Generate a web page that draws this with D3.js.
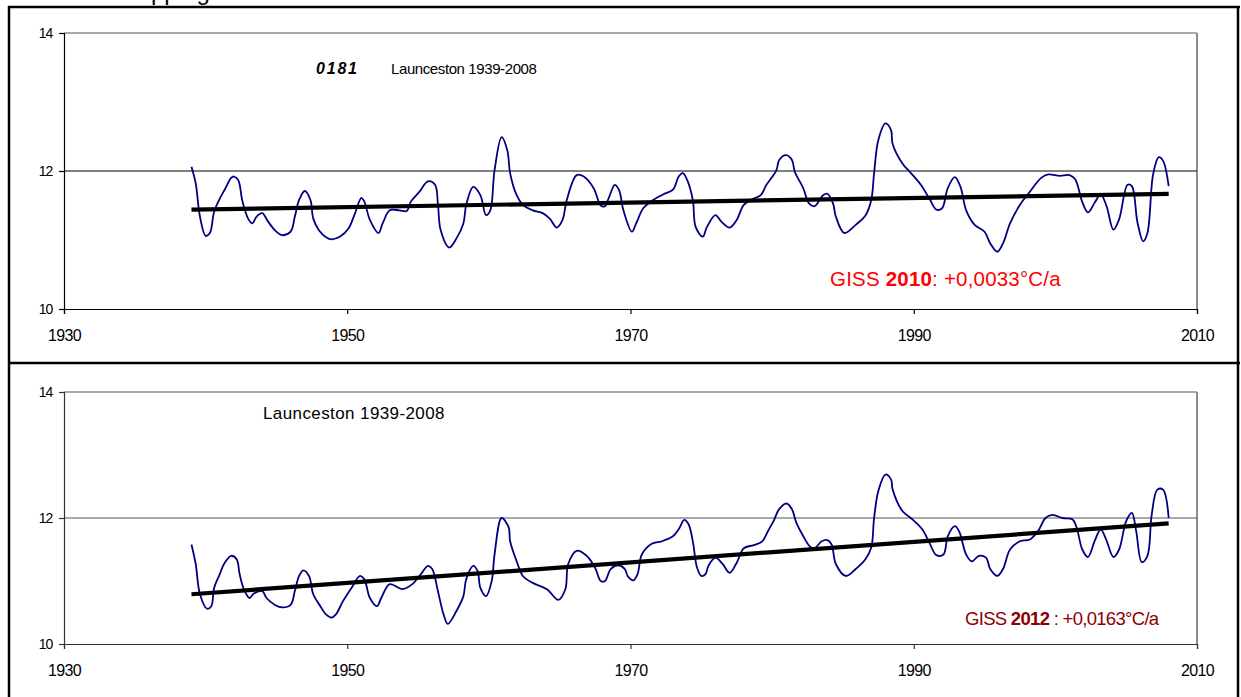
<!DOCTYPE html>
<html>
<head>
<meta charset="utf-8">
<script src="https://cdn.jsdelivr.net/npm/d3@7"></script>
<style>
  body { margin: 0; background: #fff; }
  svg { display: block; }
  text { font-family: "Liberation Sans", Arial, sans-serif; }
</style>
</head>
<body>
<svg id="chart" width="1241" height="697"></svg>
<script>
// Axis ticks shared by both panels
const xTicks = [1930, 1950, 1970, 1990, 2010];
const yTicks = [10, 12, 14];

// Launceston annual mean temperature (smoothed), GISS 2010 release
const yearsA = [1939.0,1939.3,1939.6,1940.0,1940.3,1940.6,1941.0,1941.4,1941.8,1942.0,1942.3,1942.6,1943.0,1943.3,1943.6,1944.0,1944.4,1944.9,1945.4,1946.0,1946.3,1946.6,1947.0,1947.4,1947.6,1948.0,1948.5,1948.9,1949.5,1950.1,1950.5,1951.0,1951.2,1951.6,1952.2,1952.5,1953.0,1953.7,1954.2,1954.5,1955.1,1955.7,1956.2,1956.4,1956.6,1957.2,1957.7,1958.2,1958.4,1958.9,1959.4,1959.8,1960.1,1960.4,1960.9,1961.3,1961.5,1961.9,1962.4,1963.1,1963.8,1964.3,1964.8,1965.2,1965.5,1966.2,1966.7,1967.4,1967.9,1968.2,1968.5,1968.9,1969.2,1969.5,1970.1,1970.4,1970.9,1971.6,1972.3,1973.0,1973.4,1973.7,1974.0,1974.4,1974.6,1975.1,1975.4,1976.0,1976.4,1977.0,1977.5,1978.0,1978.7,1979.2,1979.6,1980.3,1980.5,1981.0,1981.4,1981.6,1982.2,1982.6,1983.0,1983.6,1983.9,1984.3,1984.5,1985.1,1985.9,1986.6,1987.0,1987.2,1987.5,1988.0,1988.4,1988.5,1989.2,1989.8,1990.5,1991.1,1991.6,1992.0,1992.4,1992.9,1993.3,1993.7,1994.3,1995.0,1995.4,1995.9,1996.3,1996.8,1997.5,1998.2,1999.0,1999.5,2000.3,2001.0,2001.4,2001.9,2002.3,2002.8,2003.2,2003.6,2004.1,2004.5,2005.1,2005.4,2005.8,2006.2,2006.5,2006.9,2007.3,2007.6,2008.0];
const tempsA = [12.06,11.82,11.34,11.06,11.10,11.41,11.60,11.75,11.90,11.92,11.87,11.56,11.31,11.24,11.34,11.39,11.27,11.14,11.07,11.12,11.34,11.58,11.71,11.58,11.31,11.14,11.04,11.01,11.05,11.17,11.36,11.61,11.56,11.29,11.10,11.24,11.43,11.43,11.42,11.56,11.70,11.85,11.80,11.53,11.14,10.89,11.02,11.24,11.51,11.77,11.65,11.36,11.43,12.01,12.49,12.30,11.97,11.68,11.51,11.43,11.39,11.31,11.18,11.29,11.58,11.94,11.92,11.75,11.50,11.49,11.63,11.80,11.72,11.43,11.12,11.24,11.46,11.58,11.66,11.73,11.92,11.97,11.87,11.58,11.19,11.05,11.19,11.36,11.27,11.18,11.29,11.51,11.60,11.65,11.80,12.01,12.16,12.23,12.16,11.99,11.75,11.53,11.49,11.65,11.67,11.53,11.34,11.10,11.22,11.36,11.58,11.97,12.45,12.69,12.59,12.40,12.11,11.97,11.80,11.60,11.44,11.46,11.75,11.91,11.77,11.43,11.22,11.12,10.95,10.83,10.95,11.24,11.51,11.70,11.90,11.95,11.93,11.94,11.88,11.55,11.40,11.55,11.66,11.50,11.15,11.30,11.80,11.78,11.25,10.98,11.10,11.95,12.20,12.15,11.78];

// Same station, GISS 2012 release
const yearsB = [1939.0,1939.3,1939.6,1940.1,1940.4,1940.6,1941.0,1941.3,1941.8,1942.2,1942.4,1942.7,1943.1,1943.4,1944.0,1944.3,1944.9,1945.4,1946.0,1946.3,1946.6,1946.9,1947.3,1947.6,1948.1,1948.5,1948.9,1949.2,1949.7,1950.3,1950.9,1951.2,1951.6,1952.1,1952.4,1953.0,1953.9,1954.6,1955.2,1955.7,1956.0,1956.4,1956.8,1957.1,1957.7,1958.2,1958.4,1958.9,1959.2,1959.4,1959.8,1960.2,1960.4,1960.9,1961.4,1961.5,1962.0,1962.4,1963.1,1964.1,1964.9,1965.4,1965.6,1966.2,1966.9,1967.5,1967.9,1968.2,1968.6,1969.1,1969.6,1969.8,1970.2,1970.5,1970.8,1971.5,1972.2,1973.0,1973.4,1973.8,1974.1,1974.4,1974.7,1975.0,1975.3,1975.5,1976.0,1976.5,1977.0,1977.5,1978.0,1978.7,1979.3,1979.7,1980.1,1980.5,1981.0,1981.4,1981.7,1982.2,1982.7,1983.0,1983.5,1983.9,1984.2,1984.5,1985.2,1985.9,1986.6,1987.0,1987.2,1987.5,1988.0,1988.4,1988.5,1989.2,1989.9,1990.6,1991.1,1991.6,1992.1,1992.4,1992.9,1993.2,1993.7,1994.1,1994.6,1995.1,1995.4,1995.9,1996.3,1996.8,1997.5,1998.2,1998.8,1999.3,1999.8,2000.5,2001.2,2001.5,2001.9,2002.3,2002.8,2003.2,2003.6,2004.1,2004.5,2005.0,2005.4,2005.7,2006.1,2006.5,2006.8,2007.2,2007.6,2008.0];
const tempsB = [11.58,11.27,10.79,10.56,10.60,10.89,11.11,11.27,11.40,11.34,11.11,10.87,10.73,10.80,10.84,10.73,10.62,10.58,10.62,10.84,11.08,11.17,11.08,10.79,10.60,10.47,10.42,10.47,10.68,10.89,11.08,11.03,10.73,10.60,10.73,10.95,10.87,10.95,11.11,11.24,11.19,10.84,10.47,10.32,10.52,10.76,11.03,11.24,11.16,10.89,10.76,11.00,11.42,12.00,11.85,11.63,11.29,11.08,10.97,10.87,10.70,10.87,11.27,11.48,11.40,11.21,11.00,11.00,11.19,11.25,11.19,11.08,11.01,11.11,11.42,11.59,11.63,11.71,11.82,11.97,11.90,11.63,11.21,11.08,11.11,11.24,11.37,11.27,11.13,11.29,11.52,11.57,11.63,11.79,11.95,12.14,12.23,12.14,11.93,11.71,11.54,11.52,11.63,11.65,11.58,11.27,11.08,11.19,11.35,11.53,12.00,12.43,12.69,12.61,12.46,12.11,11.98,11.82,11.61,11.41,11.42,11.71,11.87,11.79,11.42,11.31,11.40,11.37,11.19,11.08,11.19,11.50,11.63,11.66,11.80,12.00,12.05,12.00,11.98,11.85,11.50,11.38,11.65,11.82,11.65,11.38,11.50,11.95,12.08,11.80,11.30,11.40,12.05,12.45,12.45,12.00];

// Linear trends: value at the first year plus slope in °C per year
const trendYears = [1939, 2008];
const trendStartA = 11.44, slopeA = 0.0033;
const trendStartB = 10.79, slopeB = 0.0163;

const svg = d3.select("#chart");

// Tail of the running document text above the table (only descenders show)
svg.append("text").attr("x", 151).attr("y", 0).attr("font-size", 24)
  .attr("font-family", "Liberation Serif, Times New Roman, serif").text("pping");

// Table frame around the two panels
const frame = svg.append("g").attr("stroke", "#000").attr("stroke-width", 2.5);
frame.append("line").attr("x1", 8).attr("x2", 1240).attr("y1", 7).attr("y2", 7);
frame.append("line").attr("x1", 8).attr("x2", 1240).attr("y1", 363).attr("y2", 363);
frame.append("line").attr("x1", 9).attr("x2", 9).attr("y1", 6).attr("y2", 700);
frame.append("line").attr("x1", 1238).attr("x2", 1238).attr("y1", 6).attr("y2", 700);

function panel(cfg) {
  const x = d3.scaleLinear().domain([1930, 2010]).range([64, 1197]);
  const y = d3.scaleLinear().domain([10, 14]).range([cfg.bottom, cfg.top]);
  const g = svg.append("g");

  // plot-area border (top and right) in grey
  g.append("line").attr("x1", x(1930)).attr("x2", x(2010)).attr("y1", y(14)).attr("y2", y(14))
    .attr("stroke", "#8c8c8c").attr("stroke-width", 1.5);
  g.append("line").attr("x1", x(2010)).attr("x2", x(2010)).attr("y1", y(14)).attr("y2", y(10))
    .attr("stroke", "#8c8c8c").attr("stroke-width", 2);

  // gridline at 12
  g.append("line").attr("x1", x(1930)).attr("x2", x(2010)).attr("y1", y(12)).attr("y2", y(12))
    .attr("stroke", cfg.gridColor).attr("stroke-width", 1);

  // axes
  const yAxis = d3.axisLeft(y).tickValues(yTicks).tickSize(5).tickFormat(d3.format("d"));
  const xAxis = d3.axisBottom(x).tickValues(xTicks).tickSize(5).tickFormat(d3.format("d"));
  const ya = g.append("g").attr("transform", `translate(${x(1930)},0)`).call(yAxis);
  const xa = g.append("g").attr("transform", `translate(0,${y(10)})`).call(xAxis);
  [ya, xa].forEach(a => {
    a.select(".domain").attr("stroke", cfg.axisColor).attr("stroke-width", 1.2);
    a.selectAll(".tick line").attr("stroke", cfg.axisColor).attr("stroke-width", 1.2);
    a.selectAll("text").attr("fill", "#000")
      .attr("font-family", "Liberation Sans, Arial, sans-serif");
  });
  ya.selectAll("text").attr("x", -12).attr("dy", "0.35em").attr("font-size", 14).attr("letter-spacing", -1.2);
  xa.selectAll("text").attr("y", 21).attr("dy", "0.71em").attr("font-size", 16).attr("letter-spacing", -0.6);

  // temperature curve
  const line = d3.line().x((d, i) => x(cfg.years[i])).y(d => y(d)).curve(d3.curveCatmullRom.alpha(0.5));
  g.append("path").datum(cfg.temps).attr("d", line)
    .attr("fill", "none").attr("stroke", "#000080").attr("stroke-width", 1.8);

  // trend line
  const tl = d3.line().x(d => x(d)).y(d => y(cfg.t0 + cfg.slope * (d - trendYears[0])));
  g.append("path").datum(trendYears).attr("d", tl)
    .attr("fill", "none").attr("stroke", "#000").attr("stroke-width", 4.2);
  return { x, y, g };
}

const pA = panel({ top: 33, bottom: 309, years: yearsA, temps: tempsA, t0: trendStartA, slope: slopeA,
  gridColor: "#000", axisColor: "#000" });
const pB = panel({ top: 392, bottom: 644, years: yearsB, temps: tempsB, t0: trendStartB, slope: slopeB,
  gridColor: "#555", axisColor: "#333" });

// Titles
svg.append("text").attr("x", 316).attr("y", 74).attr("font-size", 16).attr("letter-spacing", 1.8)
  .attr("font-weight", "bold").attr("font-style", "italic").text("0181");
svg.append("text").attr("x", 391).attr("y", 74).attr("font-size", 15).attr("letter-spacing", -0.4)
  .text("Launceston 1939-2008");

svg.append("text").attr("x", 263).attr("y", 419).attr("font-size", 17).attr("letter-spacing", 0.4)
  .text("Launceston 1939-2008");

// Trend annotations
const a1 = svg.append("text").attr("x", 830).attr("y", 286).attr("font-size", 20.5).attr("fill", "#ff0000")
  .attr("letter-spacing", 0.2);
a1.append("tspan").text("GISS ");
a1.append("tspan").attr("font-weight", "bold").text("2010");
a1.append("tspan").text(": +0,0033°C/a");

const a2 = svg.append("text").attr("x", 965).attr("y", 625).attr("font-size", 18.5).attr("fill", "#8b0000")
  .attr("letter-spacing", -0.7);
a2.append("tspan").text("GISS ");
a2.append("tspan").attr("font-weight", "bold").text("2012");
a2.append("tspan").text(" : +0,0163°C/a");
</script>
</body>
</html>
